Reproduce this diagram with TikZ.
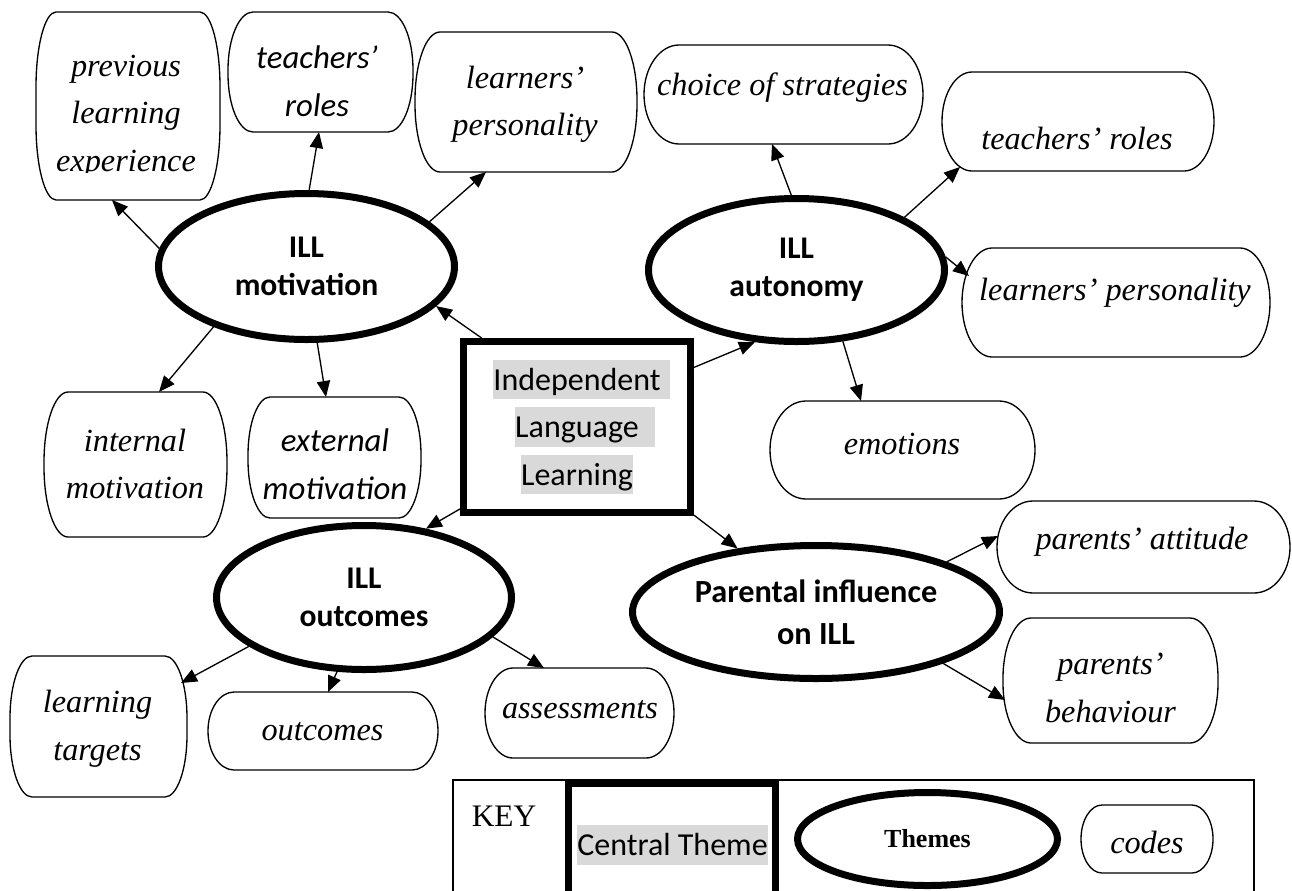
\documentclass[tikz,border=0pt]{standalone}
\usepackage{fontspec}
\setmainfont{Liberation Serif}
\newfontfamily\calib{Carlito}
\usetikzlibrary{shapes.geometric,arrows.meta,calc}
\definecolor{hlgray}{HTML}{D9D9D9}
\newcommand\hlgraybox[2]{{\setlength\fboxsep{0pt}\colorbox{hlgray}{\rule[-0.269em]{0pt}{1.221em}#1}\rlap{\colorbox{hlgray}{\rule[-0.269em]{0pt}{1.221em}\hspace*{#2}}}}}
\newcommand\codeoutline[3]{%
\draw[codeedge] ($(#1.north west)+(#2,0)$) -- ($(#1.north east)+(-#2,0)$)
 .. controls ($(#1.north east)+(-0.448*#2,0)$) and ($(#1.north east)+(0,0.448*#3)$) .. ($(#1.north east)+(0,#3)$)
 -- ($(#1.south east)+(0,-#3)$)
 .. controls ($(#1.south east)+(0,-0.448*#3)$) and ($(#1.south east)+(-0.448*#2,0)$) .. ($(#1.south east)+(-#2,0)$)
 -- ($(#1.south west)+(#2,0)$)
 .. controls ($(#1.south west)+(0.448*#2,0)$) and ($(#1.south west)+(0,-0.448*#3)$) .. ($(#1.south west)+(0,-#3)$)
 -- ($(#1.north west)+(0,#3)$)
 .. controls ($(#1.north west)+(0,0.448*#3)$) and ($(#1.north west)+(0.448*#2,0)$) .. ($(#1.north west)+(#2,0)$) -- cycle;}
\tikzset{
 cbox/.style 2 args={shape=rectangle, draw=none, inner sep=0pt, outer sep=0pt, minimum width=#1*0.75pt, minimum height=#2*0.75pt},
 ctext/.style={align=center, inner sep=0pt, font=\itshape\fontsize{24.2}{35.6}\selectfont},
 cstext/.style={align=center, inner sep=0pt, font=\calib\itshape\fontsize{24.6}{35.6}\selectfont},
 theme/.style={ellipse, draw, line width=5.25pt, inner sep=0pt, align=center, font=\calib\bfseries\fontsize{23.7}{28.2}\selectfont},
 conn/.style={line width=1pt, -{Triangle[length=12pt,width=10pt]}},
 codeedge/.style={line width=1pt},
}
\begin{document}
\begin{tikzpicture}[x=0.75pt, y=-0.75pt]
\useasboundingbox (0,0) rectangle (1292,890);
\clip (0,0) rectangle (1292,890);

% themes
\node[theme, minimum width=296*0.75pt, minimum height=146*0.75pt] (M) at (306.5,266.5) {ILL\\motivation};
\node[theme, minimum width=296*0.75pt, minimum height=143*0.75pt] (A) at (796.5,270) {ILL\\autonomy};
\node[theme, minimum width=295*0.75pt, minimum height=144*0.75pt] (O) at (364,597.5) {ILL\\outcomes};
\node[theme, minimum width=367*0.75pt, minimum height=133*0.75pt, font=\calib\bfseries\fontsize{24.2}{31.5}\selectfont] (P) at (816,612) {Parental influence\\on ILL};

% central theme
\node[draw, line width=5.25pt, minimum width=227*0.75pt, minimum height=171*0.75pt, inner sep=0pt, align=center, font=\calib\fontsize{24}{35.6}\selectfont] (C) at (577,427)
 {\hlgraybox{Independent}{7pt}\\\hlgraybox{Language}{12pt}\\\hlgraybox{Learning}{0pt}};

% codes
\node[cbox={184}{188}] (prev) at (128,106) {};
\codeoutline{prev}{20}{75}
\begin{scope}
\clip (36,12) rectangle (220,172);
\node[ctext] (prevT) at (126,116.5) {previous\\learning\\experience};
\end{scope}

\node[cbox={185}{120}] (teachL) at (320.5,72) {};
\codeoutline{teachL}{25}{58}
\node[cstext] (teachLT) at (317,81) {teachers’\\roles};

\node[cbox={222}{140}] (learnL) at (526,102) {};
\codeoutline{learnL}{25}{68}
\node[ctext] (learnLT) at (525,104.5) {learners’\\personality};

\node[cbox={279}{99}] (choice) at (783.5,94.5) {};
\codeoutline{choice}{35}{49.5}
\node[ctext] (choiceT) at (782.5,88) {choice of strategies};

\node[cbox={272}{99}] (teachR) at (1078,121.5) {};
\codeoutline{teachR}{30}{49.5}
\node[ctext] (teachRT) at (1077,138) {teachers’ roles};

\node[cbox={308}{109}] (learnR) at (1116,302.5) {};
\codeoutline{learnR}{30}{54.5}
\node[ctext] (learnRT) at (1115,293) {learners’ personality};

\node[cbox={183}{145}] (internal) at (135.5,464.5) {};
\codeoutline{internal}{24}{70}
\node[ctext] (internalT) at (135,464) {internal\\motivation};

\node[cbox={173}{121}] (external) at (334.5,457.5) {};
\codeoutline{external}{22}{58}
\node[cstext] (externalT) at (335,464) {external\\motivation};

\node[cbox={265}{98}] (emotions) at (902.5,450) {};
\codeoutline{emotions}{36}{49}
\node[ctext] (emotionsT) at (902,444) {emotions};

\node[cbox={293}{92}] (attitude) at (1143.5,547) {};
\codeoutline{attitude}{36}{46}
\node[ctext] (attitudeT) at (1142,542) {parents’ attitude};

\node[cbox={215}{125}] (behav) at (1110.5,680.5) {};
\codeoutline{behav}{28}{60}
\node[ctext] (behavT) at (1110.5,688) {parents’\\behaviour};

\node[cbox={177}{141}] (targets) at (98.5,726.5) {};
\codeoutline{targets}{22}{62}
\node[ctext] (targetsT) at (97.5,728.5) {learning\\targets};

\node[cbox={230}{78}] (outC) at (323,731) {};
\codeoutline{outC}{26}{39}
\node[ctext] (outCT) at (322.5,732) {outcomes};

\node[cbox={189}{90}] (assess) at (579.5,713) {};
\codeoutline{assess}{28}{45}
\node[ctext] (assessT) at (580,710) {assessments};

% connectors
\draw[conn] (M.173) -- ($(prev.south)+(-16,0)$);
\draw[conn] (M.88.2) -- ($(teachL.south)+(-1.5,0)$);
\draw[conn] (M.20.5) -- ($(learnL.south)+(-40,0)$);
\draw[conn] (M.213.5) -- ($(internal.north)+(23.5,0)$);
\draw[conn] (M.278.5) -- ($(external.north)+(-8.5,0)$);
\draw[conn] (C.137.1) -- (M.343.3);
\draw[conn] (C.27.9) -- (A.240.6);
\draw[conn] (C.215.4) -- (O.48.7);
\draw[conn] (C.323.5) -- (P.141.3);
\draw[conn] (A.94.8) -- ($(choice.south)+(-11.5,0)$);
\draw[conn] (A.26.7) -- ($(teachR.south west)+(18,-4)$);
\draw[conn] (A.5) -- ($(learnR.north west)+(7,28)$);
\draw[conn] (A.303.8) -- ($(emotions.north)+(-41.5,0)$);
\draw[conn] (O.203.9) -- ($(targets.north east)+(-6,27)$);
\draw[conn] (O.250.6) -- ($(outC.north)+(5,0)$);
\draw[conn] (O.343.9) -- ($(assess.north)+(-35.5,0)$);
\draw[conn] (P.21.4) -- ($(attitude.west)+(1,-11)$);
\draw[conn] (P.338.6) -- ($(behav.west)+(2,19.5)$);

% key
\node[draw, line width=1pt, minimum width=801*0.75pt, minimum height=140*0.75pt, inner sep=0pt, outer sep=0pt] (key) at (853.5,850) {};
\node[inner sep=0pt, font=\fontsize{23.5}{27}\selectfont] (keyT) at (504,816) {KEY};
\node[draw, line width=5.25pt, fill=white, minimum width=207*0.75pt, minimum height=140*0.75pt, inner sep=0pt] (ctK) at (672,853.5) {};
\node[inner sep=0pt, font=\calib\fontsize{24}{28}\selectfont] (ctT) at (672.5,845) {\hlgraybox{Central Theme}{0pt}};
\node[theme, minimum width=260*0.75pt, minimum height=93*0.75pt, font=\bfseries\fontsize{19.5}{23}\selectfont] (thK) at (927.5,839) {Themes};
\node[cbox={132}{68}] (cdK) at (1147,839) {};
\codeoutline{cdK}{21}{34}
\node[ctext] (cdT) at (1147,842) {codes};
\end{tikzpicture}
\end{document}
